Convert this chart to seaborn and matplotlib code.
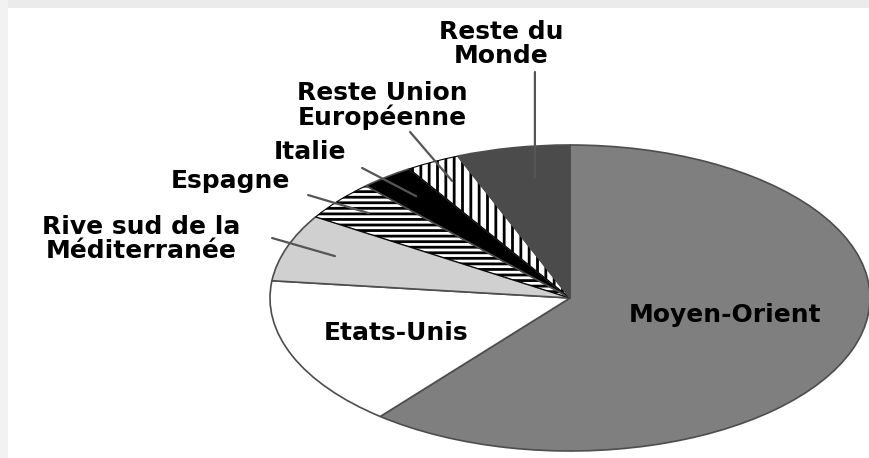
import matplotlib
matplotlib.use("Agg")
import matplotlib.pyplot as plt
from matplotlib.patches import Rectangle
import numpy as np
import seaborn as sns

# ---- data ----
categories = ["Moyen-Orient", "Etats-Unis", "Rive sud de la\nMéditerranée",
              "Espagne", "Italie", "Reste Union\nEuropéenne", "Reste du\nMonde"]
shares = [60.9, 15.9, 7.1, 4.2, 2.9, 2.9, 6.1]

# ---- style ----
sns.set_theme(style="white")
plt.rcParams['font.family'] = ['DejaVu Sans']
plt.rcParams['hatch.linewidth'] = 2.0

colors = ["#7f7f7f", "#ffffff", "#d0d0d0", "#ffffff", "#000000", "#ffffff", "#4b4b4b"]
hatches = ["", "", "", "---", "", "||", ""]

W, H = 869, 458
fig = plt.figure(figsize=(W / 100, H / 100), dpi=100)
fig.patch.set_facecolor("white")
fig.add_artist(Rectangle((0, 1 - 8 / H), 1, 8 / H, transform=fig.transFigure,
                         facecolor="#ebebeb", edgecolor="none"))
fig.add_artist(Rectangle((0, 0), 8 / W, 1, transform=fig.transFigure,
                         facecolor="#f2f2f2", edgecolor="none"))

# pie centre at (570, 298) px from top-left, radii 300 x 153 px
ax = fig.add_axes([270 / W, 7 / H, 600 / W, 306 / H])
wedges, _ = ax.pie(shares, colors=colors, startangle=90, counterclock=False,
                   wedgeprops=dict(edgecolor="#4d4d4d", linewidth=1.2))
for w, h in zip(wedges, hatches):
    w.set_clip_on(False)
    if h:
        w.set_hatch(h)
        w.set_edgecolor("black")
        w.set_linewidth(0.8)
ax.set_aspect("auto")
ax.set_xlim(-1, 1)
ax.set_ylim(-1, 1)
ax.axis("off")

# label positions (data coords of the pie axes) and leader-line settings
label_pos = {
    "Moyen-Orient": (0.517, -0.111),
    "Etats-Unis": (-0.58, -0.229),
    "Rive sud de la\nMéditerranée": (-1.43, 0.386),
    "Espagne": (-1.133, 0.765),
    "Italie": (-0.867, 0.954),
    "Reste Union\nEuropéenne": (-0.627, 1.261),
    "Reste du\nMonde": (-0.23, 1.66),
}
leader_start = {
    "Rive sud de la\nMéditerranée": (-0.993, 0.392),
    "Espagne": (-0.873, 0.673),
    "Italie": (-0.693, 0.850),
    "Reste Union\nEuropéenne": (-0.533, 1.085),
    "Reste du\nMonde": (-0.117, 1.477),
}
leader_r = {
    "Rive sud de la\nMéditerranée": 0.83,
    "Espagne": 0.87,
    "Italie": 0.84,
    "Reste Union\nEuropéenne": 0.86,
    "Reste du\nMonde": 0.80,
}

for w, cat in zip(wedges, categories):
    x, y = label_pos[cat]
    ax.text(x, y, cat, ha="center", va="center", fontsize=18,
            fontweight="bold", color="black", linespacing=0.98,
            clip_on=False)
    if cat in leader_start:
        mid = np.deg2rad((w.theta1 + w.theta2) / 2)
        r = leader_r[cat]
        end = (r * np.cos(mid), r * np.sin(mid))
        if cat == "Reste du\nMonde":
            end = (leader_start[cat][0], r * np.sin(mid))
        ax.annotate("", xy=end, xytext=leader_start[cat],
                    arrowprops=dict(arrowstyle="-", color="#555555", lw=1.6,
                                    shrinkA=0, shrinkB=0),
                    annotation_clip=False)

fig.savefig("out.png", dpi=100)
